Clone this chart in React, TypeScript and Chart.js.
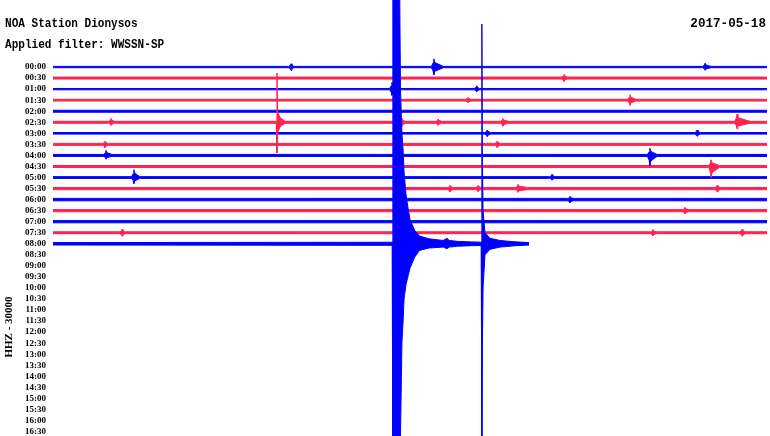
import { useEffect, useRef } from 'react';
import { Chart, registerables } from 'chart.js';

Chart.register(...registerables);

const STATION_LABEL = 'NOA Station Dionysos';
const FILTER_LABEL = 'Applied filter: WWSSN-SP';
const DATE_LABEL = '2017-05-18';
const CHANNEL_LABEL = 'HHZ - 30000';

// one helicorder line every 30 minutes
const ROW_LABELS = [
  '00:00', '00:30', '01:00', '01:30', '02:00', '02:30', '03:00', '03:30',
  '04:00', '04:30', '05:00', '05:30', '06:00', '06:30', '07:00', '07:30',
  '08:00', '08:30', '09:00', '09:30', '10:00', '10:30', '11:00', '11:30',
  '12:00', '12:30', '13:00', '13:30', '14:00', '14:30', '15:00', '15:30',
  '16:00', '16:30',
];

// minute (within the 30-min line) where each recorded line ends
const TRACE_END = [30, 30, 30, 30, 30, 30, 30, 30, 30, 30, 30, 30, 30, 30, 30, 30, 20.0];

const TRACE_COLORS = [
  'blue', 'red', 'blue', 'red', 'blue', 'red', 'blue', 'red', 'blue',
  'red', 'blue', 'red', 'blue', 'red', 'blue', 'red', 'blue',
];

// background noise half-amplitude of each line (in line spacings)
const BASE_NOISE = [0.06, 0.09, 0.06, 0.08, 0.09, 0.09, 0.07, 0.09, 0.09, 0.09, 0.08, 0.1, 0.11, 0.1, 0.1, 0.09, 0.11];

// small wave packets: [minute, up amplitude, down amplitude, decay minutes]
const PACKETS: number[][][] = [
  [[10.0, 0.3, 0.3, 0.12], [16.0, 0.75, 0.7, 0.4], [27.4, 0.35, 0.3, 0.25]],
  [[21.47, 0.35, 0.3, 0.15]],
  [[14.24, 0.6, 0.55, 0.25], [17.8, 0.3, 0.25, 0.12]],
  [[17.44, 0.25, 0.25, 0.12], [24.24, 0.5, 0.45, 0.25]],
  [],
  [[2.44, 0.35, 0.3, 0.15], [14.66, 0.35, 0.35, 0.15], [16.18, 0.3, 0.3, 0.15], [18.9, 0.35, 0.35, 0.25], [28.74, 0.75, 0.6, 0.55]],
  [[18.24, 0.3, 0.3, 0.15], [27.06, 0.3, 0.25, 0.15]],
  [[2.18, 0.3, 0.3, 0.15], [18.66, 0.3, 0.3, 0.15]],
  [[2.23, 0.45, 0.35, 0.25], [25.08, 0.65, 0.9, 0.3]],
  [[27.65, 0.6, 1.0, 0.35]],
  [[3.4, 0.7, 0.55, 0.25], [20.97, 0.3, 0.25, 0.12]],
  [[16.68, 0.3, 0.3, 0.12], [17.86, 0.3, 0.3, 0.12], [19.54, 0.4, 0.35, 0.4], [27.9, 0.3, 0.3, 0.15]],
  [[21.72, 0.3, 0.3, 0.15]],
  [[26.55, 0.3, 0.3, 0.15]],
  [],
  [[2.9, 0.3, 0.3, 0.15], [25.2, 0.3, 0.3, 0.15], [28.95, 0.3, 0.3, 0.15]],
  [],
];

// large recorded events: explicit envelope knots [minute, up, down]
const SPIKE_0230 = [
  [9.38, 0.09, 0.09], [9.41, 4.46, 2.78], [9.44, 0.9, 0.9], [9.55, 0.4, 0.4], [9.75, 0.09, 0.09],
];
const QUAKE_0800 = [
  [14.25, 0.14, 0.14], [14.28, 25, 20], [14.56, 25, 20], [14.6, 14, 17.4], [14.66, 10, 9],
  [14.71, 8.5, 7], [14.75, 6.5, 5], [14.83, 4.5, 3.7], [14.92, 3.2, 2.9], [15.0, 2.2, 2.2],
  [15.2, 1.2, 1.2], [15.4, 0.7, 0.6], [15.8, 0.45, 0.38], [16.4, 0.3, 0.3], [16.55, 0.5, 0.45],
  [16.65, 0.3, 0.3], [17.0, 0.22, 0.22], [17.6, 0.17, 0.17],
  [17.99, 0.15, 0.15], [18.02, 19.9, 17.5], [18.04, 8, 9.5], [18.07, 3, 4], [18.15, 1.0, 1.0],
  [18.36, 0.5, 0.5], [18.78, 0.3, 0.3], [19.4, 0.18, 0.18],
];
const EVENTS: Record<number, number[][]> = { 5: SPIKE_0230, 16: QUAKE_0800 };

const COLOR_MAP: Record<string, string> = { blue: '#0000ff', red: '#ff2352' };

function buildKnots(row: number): number[][] {
  const b = BASE_NOISE[row];
  const knots: number[][] = [];
  for (const [t, up, down, decay] of PACKETS[row]) {
    knots.push(
      [t - 0.1, b, b],
      [t - 0.03, up * 0.5, down * 0.5],
      [t, up, down],
      [t + 0.04, up * 0.55, down * 0.55],
      [t + decay, b, b],
    );
  }
  for (const k of EVENTS[row] || []) knots.push(k);
  knots.sort((a, c) => a[0] - c[0]);
  return [[0, b, b], ...knots.map((k) => [k[0], Math.max(b, k[1]), Math.max(b, k[2])]), [TRACE_END[row], b, b]];
}

const textPlugin = {
  id: 'helicorderText',
  afterDraw(chart: any) {
    const ctx: CanvasRenderingContext2D = chart.ctx;
    const put = (text: string, x: number, y: number, align: CanvasTextAlign, sx: number, font: string) => {
      ctx.save();
      ctx.font = font;
      ctx.fillStyle = '#000';
      ctx.textAlign = align;
      ctx.textBaseline = 'alphabetic';
      ctx.translate(x, y);
      ctx.scale(sx, 1);
      ctx.fillText(text, 0, 0);
      ctx.restore();
    };
    put(STATION_LABEL, 5, 27, 'left', 0.85, 'bold 13px "Liberation Mono"');
    put(FILTER_LABEL, 5, 48, 'left', 0.85, 'bold 13px "Liberation Mono"');
    put(DATE_LABEL, 766, 27, 'right', 0.97, 'bold 13px "Liberation Mono"');
    ctx.save();
    ctx.font = 'bold 11px "Liberation Serif"';
    ctx.fillStyle = '#000';
    ctx.textAlign = 'center';
    ctx.textBaseline = 'alphabetic';
    ctx.translate(12, 327);
    ctx.rotate(-Math.PI / 2);
    ctx.fillText(CHANNEL_LABEL, 0, 0);
    ctx.restore();
  },
};

export default function App() {
  const ref = useRef<HTMLCanvasElement>(null);
  useEffect(() => {
    const datasets: any[] = [];
    TRACE_COLORS.forEach((c, row) => {
      const knots = buildKnots(row);
      const color = COLOR_MAP[c];
      const order = row === 16 ? 0 : row === 5 ? 1 : 2;
      datasets.push({
        data: knots.map((k) => ({ x: k[0], y: row - k[1] })),
        borderColor: color, backgroundColor: color, borderWidth: 1,
        pointRadius: 0, tension: 0, fill: '+1', clip: false, order,
      });
      datasets.push({
        data: knots.map((k) => ({ x: k[0], y: row + k[2] })),
        borderColor: color, backgroundColor: color, borderWidth: 1,
        pointRadius: 0, tension: 0, fill: false, clip: false, order,
      });
    });
    const chart = new Chart(ref.current!, {
      type: 'line',
      data: { datasets },
      plugins: [textPlugin],
      options: {
        animation: false,
        responsive: true,
        maintainAspectRatio: false,
        devicePixelRatio: 1,
        layout: { padding: { top: 0, right: 3, left: 0, bottom: 0 } },
        plugins: { legend: { display: false }, tooltip: { enabled: false }, title: { display: false } },
        scales: {
          x: { type: 'linear', min: 0, max: 30, display: false },
          y: {
            type: 'linear', reverse: true, min: -6.07, max: 33.4,
            afterFit: (s: any) => {
              s.width = 53;
              s.paddingTop = 0;
              s.paddingBottom = 0;
            },
            afterBuildTicks: (s: any) => { s.ticks = ROW_LABELS.map((_, i) => ({ value: i })); },
            grid: { display: false, drawTicks: false },
            border: { display: false },
            ticks: {
              padding: 7, color: '#000', autoSkip: false,
              font: { family: '"Liberation Serif"', size: 9, weight: 'bold' },
              callback: (v: any) => ROW_LABELS[v] ?? '',
            },
          },
        },
      },
    });
    return () => chart.destroy();
  }, []);
  return (
    <div style={{ position: 'fixed', left: 0, top: 0, width: 770, height: 436, background: '#fff' }}>
      <canvas ref={ref} />
    </div>
  );
}
